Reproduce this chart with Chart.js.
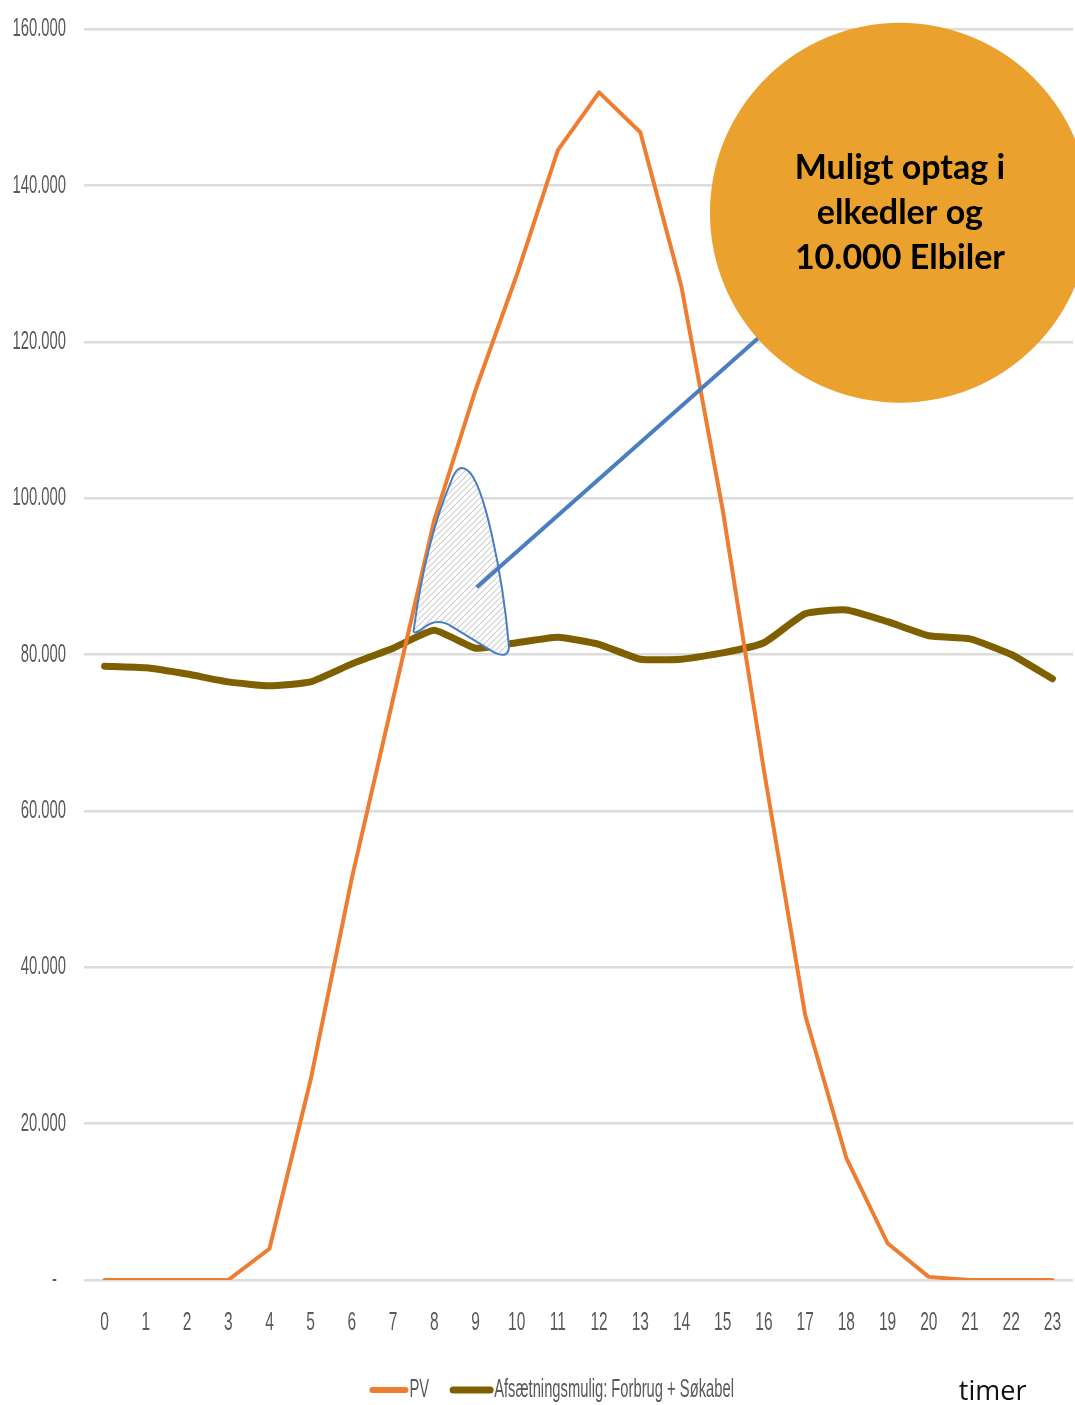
<!DOCTYPE html>
<html>
<head>
<meta charset="utf-8">
<script src="https://cdn.jsdelivr.net/npm/chart.js@4.4.1/dist/chart.umd.min.js"></script>
<style>
  html, body { margin: 0; padding: 0; background: #fff; overflow: hidden; }
  #wrap { width: 1075px; height: 1405px; position: relative; }
  canvas { display: block; }
</style>
</head>
<body>
<div id="wrap"><canvas id="myChart"></canvas></div>
<script>
// timer 0..23
var hours = ["0","1","2","3","4","5","6","7","8","9","10","11","12","13","14","15","16","17","18","19","20","21","22","23"];
var pv = [0, 0, 0, 0, 4000, 25600, 51400, 74300, 97200, 113800, 128500, 144500, 151900, 146800, 127000, 98500, 65200, 33900, 15600, 4700, 400, 0, 0, 0];
var afsaetning = [78500, 78300, 77500, 76500, 76000, 76500, 78800, 80800, 83100, 80800, 81500, 82200, 81300, 79400, 79400, 80200, 81500, 85200, 85700, 84200, 82400, 82000, 80000, 76900];
var yTicks = [0, 20000, 40000, 60000, 80000, 100000, 120000, 140000, 160000];
var seriesNames = ["PV", "Afsætningsmulig: Forbrug + Søkabel"];
var calloutText = ["Muligt optag i", "elkedler og", "10.000 Elbiler"];

var gray = "#595959";

// condensed text like the excel chart font
function narrowText(ctx, txt, x, y, align, size, sx) {
  ctx.save();
  ctx.translate(x, y);
  ctx.scale(sx, 1);
  ctx.font = size + "px 'Liberation Sans', Arial, sans-serif";
  ctx.textAlign = align;
  ctx.textBaseline = "middle";
  ctx.fillText(txt, 0, 0);
  ctx.restore();
}

function hatch() {
  var c = document.createElement("canvas");
  c.width = 6; c.height = 6;
  var g = c.getContext("2d");
  g.fillStyle = "#fff";
  g.fillRect(0, 0, 6, 6);
  g.strokeStyle = "#cfcfcf";
  g.lineWidth = 1.2;
  g.beginPath();
  g.moveTo(-1, 7); g.lineTo(7, -1);
  g.moveTo(-1, 1); g.lineTo(1, -1);
  g.moveTo(5, 7); g.lineTo(7, 5);
  g.stroke();
  return g.createPattern(c, "repeat");
}

var annotations = {
  id: "annotations",
  afterDatasetsDraw: function (chart) {
    var ctx = chart.ctx;
    var xs = chart.scales.x, ys = chart.scales.y;
    function P(i, v) { return [xs.getPixelForValue(i), ys.getPixelForValue(v)]; }

    // marked area between PV and afsætning
    var a = P(8.42, 102300), c1 = P(7.79, 94500), d = P(7.50, 83100),
        e = P(7.48, 82400), f = P(7.74, 83400), g = P(8.06, 84800), h = P(8.42, 83600),
        k = P(9.44, 80300), m = P(9.83, 79300), n = P(9.81, 81200),
        p1 = P(9.66, 90200), p2 = P(9.20, 102300), b = P(8.79, 103600), t = P(8.57, 104500);
    ctx.save();
    ctx.beginPath();
    ctx.moveTo(a[0], a[1]);
    ctx.quadraticCurveTo(c1[0], c1[1], d[0], d[1]);
    ctx.quadraticCurveTo(e[0], e[1], f[0], f[1]);
    ctx.quadraticCurveTo(g[0], g[1], h[0], h[1]);
    ctx.lineTo(k[0], k[1]);
    ctx.quadraticCurveTo(m[0], m[1], n[0], n[1]);
    ctx.bezierCurveTo(p1[0], p1[1], p2[0], p2[1], b[0], b[1]);
    ctx.quadraticCurveTo(t[0], t[1], a[0], a[1]);
    ctx.closePath();
    ctx.fillStyle = hatch();
    ctx.fill();
    ctx.strokeStyle = "#4a7ec0";
    ctx.lineWidth = 2;
    ctx.stroke();

    // callout circle with connector
    var from = P(9.03, 88600), ctr = P(19.3, 136500);
    var r = ys.getPixelForValue(0) - ys.getPixelForValue(24300);
    ctx.beginPath();
    ctx.moveTo(from[0], from[1]);
    ctx.lineTo(ctr[0], ctr[1]);
    ctx.strokeStyle = "#4a7ec0";
    ctx.lineWidth = 4;
    ctx.stroke();
    ctx.beginPath();
    ctx.arc(ctr[0], ctr[1], r, 0, Math.PI * 2);
    ctx.fillStyle = "#eba12d";
    ctx.fill();
    ctx.fillStyle = "#000";
    ctx.font = "bold 34px Lato, 'Open Sans', sans-serif";
    ctx.textAlign = "center";
    ctx.textBaseline = "middle";
    for (var i = 0; i < calloutText.length; i++) {
      ctx.fillText(calloutText[i], ctr[0], ctr[1] + (i - 1) * 45);
    }
    ctx.restore();
  },
  afterDraw: function (chart) {
    var ctx = chart.ctx;
    var xs = chart.scales.x, ys = chart.scales.y, area = chart.chartArea;
    ctx.save();
    ctx.fillStyle = gray;
    // y tick labels
    yTicks.forEach(function (v) {
      var lab = v === 0 ? "-" : (v / 1000) + ".000";
      narrowText(ctx, lab, v === 0 ? area.left - 27 : area.left - 18, ys.getPixelForValue(v), "right", 26, 0.57);
    });
    // x tick labels
    hours.forEach(function (h, i) {
      narrowText(ctx, h, xs.getPixelForValue(i), area.bottom + 43, "center", 25, 0.62);
    });
    // legend
    var ly = chart.height - 15;
    var x0 = xs.getPixelForValue(6.5);
    chart.data.datasets.forEach(function (ds, i) {
      var sw = i === 0 ? 33 : 37;
      ctx.beginPath();
      ctx.moveTo(x0, ly);
      ctx.lineTo(x0 + sw, ly);
      ctx.strokeStyle = ds.borderColor;
      ctx.lineWidth = i === 0 ? 6 : 7;
      ctx.lineCap = "round";
      ctx.stroke();
      ctx.fillStyle = gray;
      narrowText(ctx, ds.label, x0 + sw + 4, ly, "left", 25, 0.59);
      ctx.font = "25px 'Liberation Sans', Arial, sans-serif";
      x0 += sw + 4 + ctx.measureText(ds.label).width * 0.59 + 24;
    });
    // axis unit
    ctx.fillStyle = "#111";
    ctx.font = "27px 'Open Sans', Lato, sans-serif";
    ctx.textAlign = "center";
    ctx.textBaseline = "middle";
    ctx.fillText("timer", xs.getPixelForValue(21.55), chart.height - 13);
    ctx.restore();
  }
};

var c = new Chart("myChart", {
  type: "line",
  data: {
    labels: hours,
    datasets: [{
      label: seriesNames[0],
      data: pv,
      borderColor: "#ed7d31",
      backgroundColor: "#ed7d31",
      borderWidth: 4,
      pointRadius: 0,
      tension: 0,
      borderJoinStyle: "round",
      borderCapStyle: "round"
    }, {
      label: seriesNames[1],
      data: afsaetning,
      borderColor: "#7f6000",
      backgroundColor: "#7f6000",
      borderWidth: 7,
      pointRadius: 0,
      tension: 0.15,
      borderJoinStyle: "round",
      borderCapStyle: "round"
    }]
  },
  options: {
    responsive: true,
    maintainAspectRatio: false,
    animation: false,
    layout: { padding: { top: 29, right: 2, left: 0, bottom: 59 } },
    plugins: {
      legend: { display: false },
      tooltip: { enabled: false }
    },
    scales: {
      x: {
        offset: true,
        grid: { display: false },
        border: { display: false },
        ticks: { display: false },
        afterFit: function (s) { s.height = 66; }
      },
      y: {
        min: 0,
        max: 160000,
        afterBuildTicks: function (s) { s.ticks = yTicks.map(function (v) { return { value: v }; }); },
        grid: { color: "#dcdcdc", lineWidth: 2.5, drawTicks: false },
        border: { display: false },
        ticks: { display: false },
        afterFit: function (s) { s.width = 84; }
      }
    }
  },
  plugins: [annotations]
});
</script>
</body>
</html>
